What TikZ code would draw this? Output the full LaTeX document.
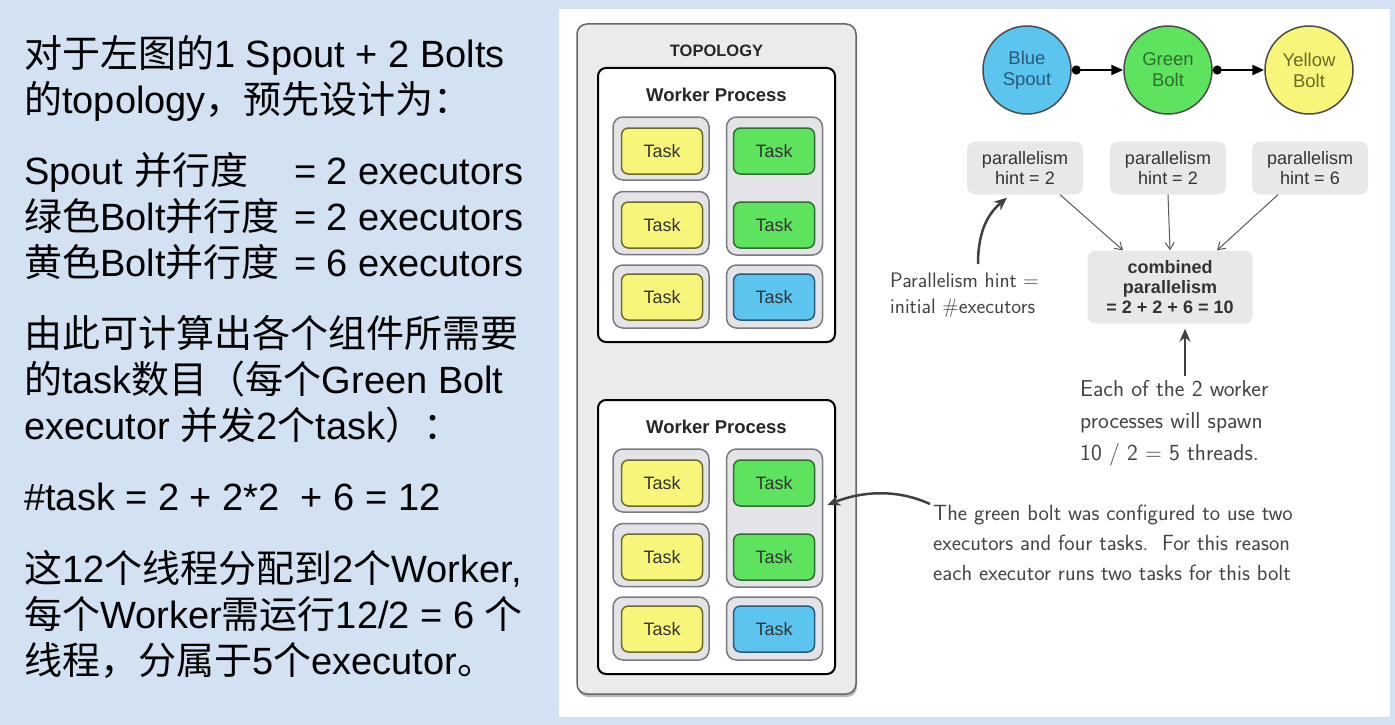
\documentclass[tikz,border=0pt]{standalone}
\usepackage{fontspec}
\setmainfont{Liberation Sans}
\newfontfamily\cjk{Noto Sans CJK SC}
\usetikzlibrary{positioning,arrows.meta,shadows}

\definecolor{bgblue}{HTML}{D2E2F2}
\definecolor{topogray}{HTML}{EBEBEB}
\definecolor{execgray}{HTML}{E3E3E8}
\definecolor{execline}{HTML}{7A7A80}
\definecolor{hintgray}{HTML}{E8E8E8}
\definecolor{taskyellow}{HTML}{F7F57A}
\definecolor{yellowline}{HTML}{6B6B2A}
\definecolor{taskgreen}{HTML}{5EE35E}
\definecolor{greenline}{HTML}{2E6E2E}
\definecolor{taskblue}{HTML}{5BC5F0}
\definecolor{blueline}{HTML}{2A5A7A}
\definecolor{handgray}{HTML}{444444}

\begin{document}
\begin{tikzpicture}[x=1pt,y=-1pt]
  \tikzset{
    txt/.style = {anchor=base west, inner sep=0pt, font=\fontsize{38}{44}\selectfont},
    topo/.style = {draw=black!60, line width=1.5pt, fill=topogray, rounded corners=10pt,
      drop shadow={shadow xshift=1pt, shadow yshift=-3pt, fill=black!55}},
    worker/.style = {draw=black, line width=2pt, fill=white, rounded corners=8pt,
      minimum width=237, minimum height=274},
    exec/.style = {draw=execline, line width=1.5pt, fill=execgray, rounded corners=10pt,
      minimum width=96, minimum height=63},
    task/.style = {rounded corners=7pt, line width=1.5pt, minimum width=81, minimum height=46,
      font=\fontsize{18}{20}\selectfont, text=black!80},
    ytask/.style = {task, fill=taskyellow, draw=yellowline},
    gtask/.style = {task, fill=taskgreen, draw=greenline},
    btask/.style = {task, fill=taskblue, draw=blueline},
    ball/.style = {circle, draw=black!70, line width=1.5pt, minimum size=88, align=center,
      font=\fontsize{18.5}{21}\selectfont},
    linkarrow/.style = {line width=2.5pt, {Circle[length=9pt]}-{Triangle[length=12pt,width=10pt]}},
    hint/.style = {fill=hintgray, rounded corners=8pt, minimum width=116, minimum height=53,
      align=center, font=\fontsize{18}{20}\selectfont, text=black!80},
    thinarrow/.style = {draw=black!65, line width=1pt, -{Straight Barb[length=7pt,width=9pt]}},
    hand/.style = {align=left, inner sep=0pt, text=handgray, font=\sffamily\fontsize{22}{30}\selectfont},
    handarrow/.style = {draw=black!75, line width=2.5pt, -{Stealth[length=13pt,width=11pt]}}
  }
  \fill[bgblue] (0,0) rectangle (1395,725);
  \useasboundingbox (0,0) rectangle (1395,725);
  \fill[white] (559,9) rectangle (1390,717);

  % text on the left
  \node[txt] (l1) at (24,68) {{\cjk 对于左图的}1 Spout + 2 Bolts};
  \node[txt] (l2) at (24,113) {{\cjk 的}topology{\cjk ，预先设计为：}};
  \node[txt] (l3) at (24,184) {\makebox[270pt][l]{Spout {\cjk 并行度}}= 2 executors};
  \node[txt] (l4) at (24,230) {\makebox[270pt][l]{{\cjk 绿色}Bolt{\cjk 并行度}}= 2 executors};
  \node[txt] (l5) at (24,276) {\makebox[270pt][l]{{\cjk 黄色}Bolt{\cjk 并行度}}= 6 executors};
  \node[txt] (l6) at (24,347) {\cjk 由此可计算出各个组件所需要};
  \node[txt] (l7) at (24,393) {{\cjk 的}task{\cjk 数目（每个}Green Bolt};
  \node[txt] (l8) at (24,439) {executor {\cjk 并发}2{\cjk 个}task{\cjk ）：}};
  \node[txt] (l9) at (24,510) {\#task = 2 + 2*2\ \ + 6 = 12};
  \node[txt] (l10) at (24,582) {{\cjk 这}12{\cjk 个线程分配到}2{\cjk 个}Worker,};
  \node[txt] (l11) at (24,628) {{\cjk 每个}Worker{\cjk 需运行}12/2 = 6 {\cjk 个}};
  \node[txt] (l12) at (24,674) {{\cjk 线程，分属于}5{\cjk 个}executor{\cjk 。}};

  % topology with two workers
  \node[topo, minimum width=279, minimum height=670] (topo) at (716.5,359) {};
  \node[font=\bfseries\fontsize{16.5}{18}\selectfont, text=black!85] (topotitle) at (716.5,51) {TOPOLOGY};
  \foreach \w/\dy in {1/0,2/332}{
    \begin{scope}[shift={(0,\dy)}]
      \node[worker] (w\w) at (716.5,205) {};
      \node[font=\bfseries\fontsize{18.5}{20}\selectfont, text=black!85] (wt\w) at (716.5,95) {Worker Process};
      \node[exec] (ey\w1) at (661,148.5) {};
      \node[exec] (ey\w2) at (661,223) {};
      \node[exec] (ey\w3) at (661,296.5) {};
      \node[exec, minimum height=138] (eg\w) at (774.5,186) {};
      \node[exec] (eb\w) at (774.5,296.5) {};
      \node[ytask] (y\w1) at (662,151) {Task};
      \node[ytask] (y\w2) at (662,225) {Task};
      \node[ytask] (y\w3) at (662,297) {Task};
      \node[gtask] (g\w1) at (774,151) {Task};
      \node[gtask] (g\w2) at (774,225) {Task};
      \node[btask] (b\w) at (774,297) {Task};
    \end{scope}
  }

  % spout and bolts
  \node[ball, fill=taskblue, text=blueline] (spout) at (1027,70) {Blue\\Spout};
  \node[ball, fill=taskgreen, text=greenline] (gbolt) at (1168,70) {Green\\Bolt};
  \node[ball, fill=taskyellow, text=yellowline] (ybolt) at (1309,70) {Yellow\\Bolt};
  \draw[linkarrow] (spout) -- (gbolt);
  \draw[linkarrow] (gbolt) -- (ybolt);

  \node[hint] (h1) at (1025,168) {parallelism\\hint = 2};
  \node[hint] (h2) at (1168,168) {parallelism\\hint = 2};
  \node[hint] (h3) at (1310,168) {parallelism\\hint = 6};
  \node[hint, minimum width=165, minimum height=73, font=\bfseries\fontsize{18}{20}\selectfont] (comb) at (1170,287)
    {combined\\parallelism\\= 2 + 2 + 6 = 10};
  \draw[thinarrow] ([xshift=35pt]h1.south) -- ([xshift=-47pt]comb.north);
  \draw[thinarrow] (h2.south) -- (comb.north);
  \draw[thinarrow] ([xshift=-32pt]h3.south) -- ([xshift=47pt]comb.north);

  % hand written notes
  \node[hand, anchor=west, font=\sffamily\fontsize{21}{26}\selectfont] (hintnote) at (890,295) {Parallelism hint =\\initial \#executors};
  \coordinate (hintfrom) at (978,264);
  \draw[handarrow] (hintfrom) .. controls (978,228) and (990,212) .. ([xshift=-18pt,yshift=-3pt]h1.south);

  \node[hand, anchor=north west, font=\sffamily\fontsize{23}{32}\selectfont] (spawnnote) at (1080,380) {Each of the 2 worker\\processes will spawn\\10 / 2 = 5 threads.};
  \coordinate (spawnfrom) at (1185,376);
  \draw[handarrow, shorten >=5pt] (spawnfrom) -- (spawnfrom |- comb.south);

  \node[hand, anchor=north west] (boltnote) at (933,505) {The green bolt was configured to use two\\executors and four tasks.\ \ For this reason\\each executor runs two tasks for this bolt};
  \coordinate (boltfrom) at (930,504);
  \draw[handarrow] (boltfrom) .. controls (895,488) and (860,492) .. ([xshift=4pt,yshift=13pt]eg2.east);
\end{tikzpicture}
\end{document}
